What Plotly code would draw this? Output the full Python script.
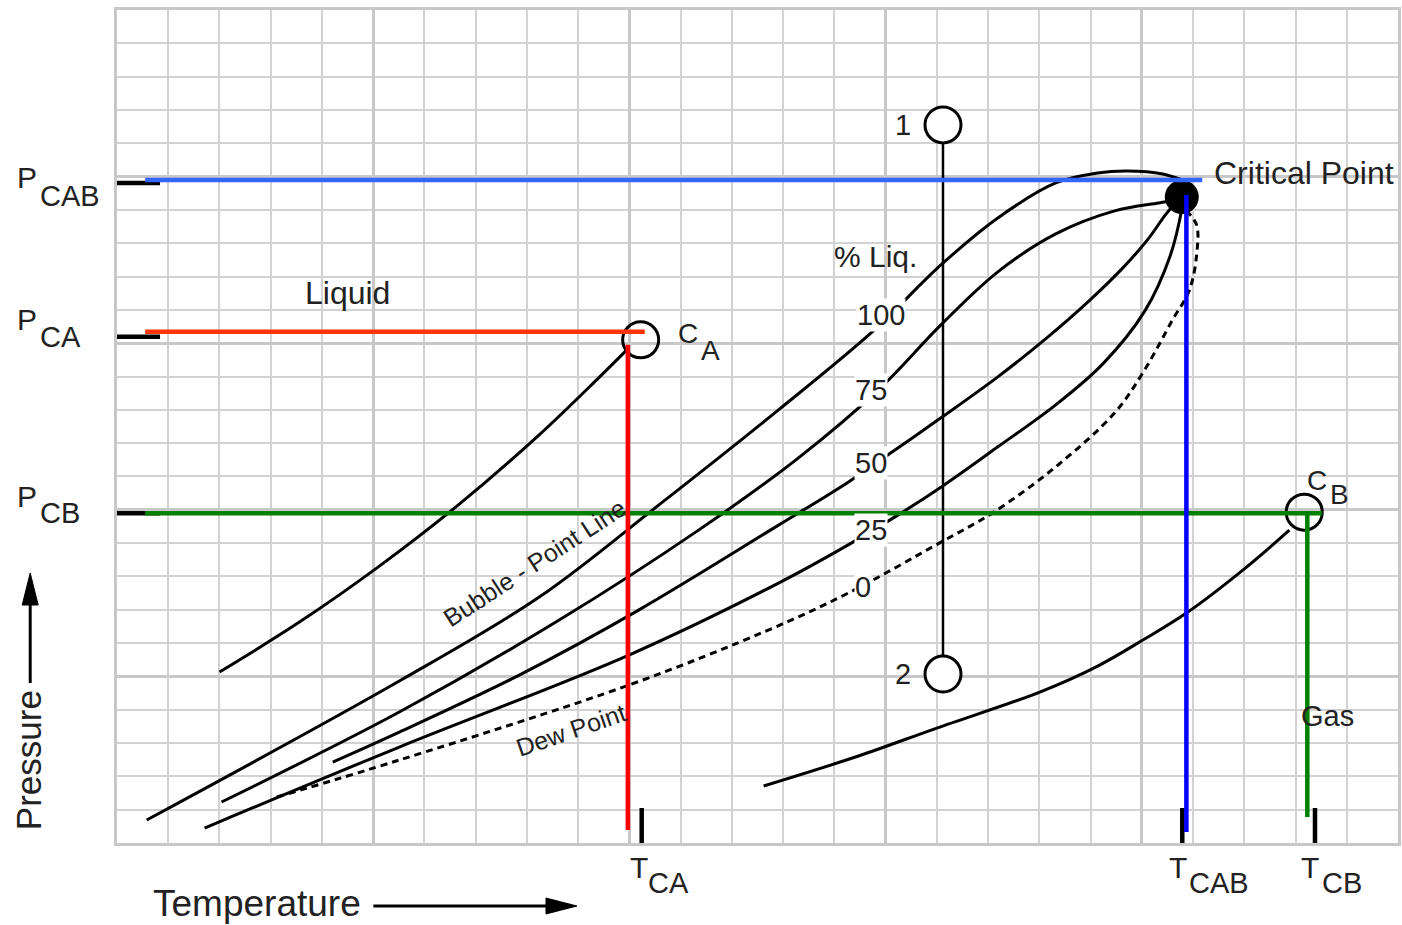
import plotly.graph_objects as go

# ---------------- data (grid units: temperature 0..25, pressure 0..25) ----------------
# vapour-pressure curve of component A (ends at its critical point C_A)
curve_a_t = [2.0, 3.56, 5.12, 6.68, 8.24, 9.40, 9.95]
curve_a_p = [5.13, 6.63, 8.31, 10.17, 12.25, 13.96, 14.80]
# vapour-pressure curve of component B (ends at C_B)
curve_b_t = [12.62, 14.47, 16.0, 18.01, 19.14, 20.02, 20.87, 22.02, 22.88]
curve_b_p = [1.71, 2.61, 3.45, 4.53, 5.31, 6.09, 6.90, 8.25, 9.39]
# quality lines of the mixture (percent liquid)
liq100_t = [0.58, 5.51, 8.24, 10.57, 12.91, 14.76, 16.08, 17.19, 18.32, 19.14, 19.70, 20.41, 20.89]
liq100_p = [0.69, 4.86, 7.38, 10.14, 13.0, 15.37, 17.35, 18.76, 19.81, 20.11, 20.17, 20.08, 19.84]
liq75_t = [2.04, 5.51, 8.63, 11.35, 13.30, 14.86, 16.08, 17.19, 18.32, 19.47, 20.33, 20.70]
liq75_p = [1.23, 3.93, 6.69, 9.39, 11.56, 13.60, 15.55, 17.14, 18.28, 18.97, 19.21, 19.30]
liq50_t = [4.21, 5.51, 7.85, 10.18, 12.91, 14.27, 15.19, 16.08, 17.19, 18.17, 18.95, 19.63, 20.11, 20.46, 20.70]
liq50_p = [2.43, 3.33, 5.04, 6.99, 9.54, 10.83, 11.80, 12.76, 13.99, 15.19, 16.24, 17.26, 18.10, 18.85, 19.30]
liq25_t = [1.71, 5.51, 9.99, 12.91, 14.33, 15.30, 16.08, 17.19, 18.32, 19.24, 20.06, 20.56, 20.79]
liq25_p = [0.45, 2.88, 5.64, 7.80, 9.00, 9.90, 10.68, 11.89, 13.15, 14.38, 15.97, 17.65, 19.09]
liq0_t = [3.12, 5.51, 9.99, 12.71, 14.27, 16.08, 17.08, 18.32, 19.47, 20.02, 20.60, 20.93, 21.07, 21.07, 20.89]
liq0_p = [1.38, 2.49, 4.74, 6.39, 7.50, 9.03, 9.90, 11.29, 12.91, 14.11, 15.70, 16.60, 17.65, 18.55, 18.94]

# critical pressures / temperatures
p_cab, p_ca, p_cb = 19.90, 15.34, 9.90
t_ca, t_cab, t_cb = 9.97, 20.87, 23.23
line_start = 0.55
p_cab_end, p_ca_end, p_cb_end = 21.18, 10.30, 23.52
t_ca_low, t_cab_low, t_cb_low = 0.39, 0.33, 0.78
t_ca_top, t_cab_top = 14.95, 19.45
# tick marks on the axes
p_ticks = [19.81, 15.19, 9.90]
t_ticks = [10.24, 20.79, 23.38]
p_tick_len = 0.84
t_tick_len = 1.05
# points
crit_point = (20.78, 19.39)
ca_point = (10.22, 15.10)
cb_point = (23.17, 9.93)
path_t = 16.12
path_p = [21.55, 5.07]

TXT = "#222222"
FONT = "Liberation Sans, Arial, sans-serif"

fig = go.Figure()

def curve(x, y, dash=None, width=3, color="black"):
    fig.add_trace(go.Scatter(x=x, y=y, mode="lines",
                             line=dict(color=color, width=width, shape="spline", smoothing=1.0,
                                       dash=dash),
                             hoverinfo="skip"))

curve(curve_a_t, curve_a_p)
curve(curve_b_t, curve_b_p)
curve(liq100_t, liq100_p)
curve(liq75_t, liq75_p)
curve(liq50_t, liq50_p)
curve(liq25_t, liq25_p)
curve(liq0_t, liq0_p, dash="7px,5px")

# isothermal path 1 -> 2
fig.add_trace(go.Scatter(x=[path_t, path_t], y=path_p, mode="lines",
                         line=dict(color="black", width=2.5), hoverinfo="skip"))
fig.add_trace(go.Scatter(x=[path_t, path_t], y=path_p, mode="markers",
                         marker=dict(size=36, color="white", line=dict(color="black", width=3)),
                         hoverinfo="skip"))
# critical points of pure components
fig.add_trace(go.Scatter(x=[ca_point[0], cb_point[0]], y=[ca_point[1], cb_point[1]], mode="markers",
                         marker=dict(size=36, color="rgba(0,0,0,0)", line=dict(color="black", width=3)),
                         hoverinfo="skip"))
# critical point of mixture
fig.add_trace(go.Scatter(x=[crit_point[0]], y=[crit_point[1]], mode="markers",
                         marker=dict(size=34, color="black"), hoverinfo="skip"))

# axis ticks
for p in p_ticks:
    fig.add_trace(go.Scatter(x=[-0.05, p_tick_len], y=[p, p], mode="lines",
                             line=dict(color="black", width=4.5), hoverinfo="skip"))
for t in t_ticks:
    fig.add_trace(go.Scatter(x=[t, t], y=[0, t_tick_len], mode="lines",
                             line=dict(color="black", width=4.5), hoverinfo="skip"))

# coloured reference lines
def ref(x, y, color):
    fig.add_trace(go.Scatter(x=x, y=y, mode="lines",
                             line=dict(color=color, width=4.5), hoverinfo="skip"))

ref([line_start, p_cab_end], [p_cab, p_cab], "#3366ff")
ref([line_start, p_ca_end], [p_ca, p_ca], "#ff3300")
ref([line_start, p_cb_end], [p_cb, p_cb], "#008000")
ref([t_ca, t_ca], [t_ca_top, t_ca_low], "#ff0000")
ref([t_cab, t_cab], [t_cab_top, t_cab_low], "#0000ff")
ref([t_cb, t_cb], [p_cb, t_cb_low], "#008000")

# ---------------- annotations ----------------
def px(x):
    return (x - 117) / 1284.0

def py(y):
    return (843 - y) / 833.0

ann = []

def label(text, x, y, size=28, ref="data", angle=0, bg=None, anchor="center"):
    d = dict(text=text, x=x, y=y, showarrow=False, textangle=angle,
             font=dict(family=FONT, size=size, color=TXT), xanchor=anchor, yanchor="middle")
    if ref == "paper":
        d.update(xref="paper", yref="paper", x=px(x), y=py(y))
    else:
        d.update(xref="x", yref="y")
    if bg:
        d.update(bgcolor=bg, borderpad=0)
    ann.append(d)

# pressure labels
label("P", 27, 178, 30, "paper")
label("CAB", 70, 196, 29, "paper")
label("P", 27, 319, 30, "paper")
label("CA", 60, 337, 29, "paper")
label("P", 27, 496, 30, "paper")
label("CB", 60, 513, 29, "paper")
# temperature labels
label("T", 640, 867, 30, "paper")
label("CA", 670, 883, 29, "paper")
label("T", 1180, 867, 30, "paper")
label("CAB", 1222, 883, 29, "paper")
label("T", 1313, 867, 30, "paper")
label("CB", 1345, 883, 29, "paper")
# axis titles
label("Pressure", 28, 760, 35, "paper", angle=-90)
label("Temperature", 257, 904, 37, "paper")
# in-plot labels
label("Liquid", 4.50, 16.51, 32)
label("C", 11.14, 15.28, 28)
label("A", 11.59, 14.77, 28)
label("C", 23.42, 10.89, 28)
label("B", 23.85, 10.47, 28)
label("Critical Point", 23.17, 20.11, 32)
label("% Liq.", 14.80, 17.59, 30)
label("100", 14.91, 15.85, 29, bg="white")
label("75", 14.72, 13.60, 29, bg="white")
label("50", 14.72, 11.40, 29, bg="white")
label("25", 14.72, 9.39, 29, bg="white")
label("0", 14.56, 7.68, 29, bg="white")
label("1", 15.34, 21.55, 29)
label("2", 15.34, 5.07, 29)
label("Gas", 23.62, 3.81, 29)
label("Bubble - Point Line", 8.14, 8.40, 25, angle=-33)
label("Dew Point", 8.86, 3.39, 25, angle=-19)

# axis arrows (decoration, paper coordinates)
shapes = [
    dict(type="line", xref="paper", yref="paper", x0=px(30), x1=px(30), y0=py(683), y1=py(600),
         line=dict(color="black", width=3)),
    dict(type="path", xref="paper", yref="paper",
         path=f"M {px(30)} {py(573)} L {px(22)} {py(605)} L {px(38)} {py(605)} Z",
         fillcolor="black", line=dict(color="black", width=1)),
    dict(type="line", xref="paper", yref="paper", x0=px(374), x1=px(555), y0=py(906), y1=py(906),
         line=dict(color="black", width=3)),
    dict(type="path", xref="paper", yref="paper",
         path=f"M {px(578)} {py(906)} L {px(547)} {py(898)} L {px(547)} {py(914)} Z",
         fillcolor="black", line=dict(color="black", width=1)),
]

fig.update_layout(
    width=1402, height=925,
    margin=dict(l=117, r=1, t=10, b=82, pad=0),
    paper_bgcolor="white", plot_bgcolor="white",
    showlegend=False,
    annotations=ann, shapes=shapes,
)
axis_common = dict(
    range=[0, 25], tick0=0, dtick=5, showgrid=True, gridcolor="#c8c8c8", gridwidth=3,
    showticklabels=False, ticks="", zeroline=False,
    showline=True, linecolor="#c8c8c8", linewidth=3, mirror=True, fixedrange=True,
    minor=dict(tick0=0, dtick=1, showgrid=True, gridcolor="#d2d2d2", gridwidth=1.5, ticks=""),
)
fig.update_xaxes(**axis_common)
fig.update_yaxes(**axis_common)

fig.write_html("out.html", include_plotlyjs=True,
               config={"displayModeBar": False},
               post_script="document.body.style.margin='0';document.body.style.overflow='hidden';")
